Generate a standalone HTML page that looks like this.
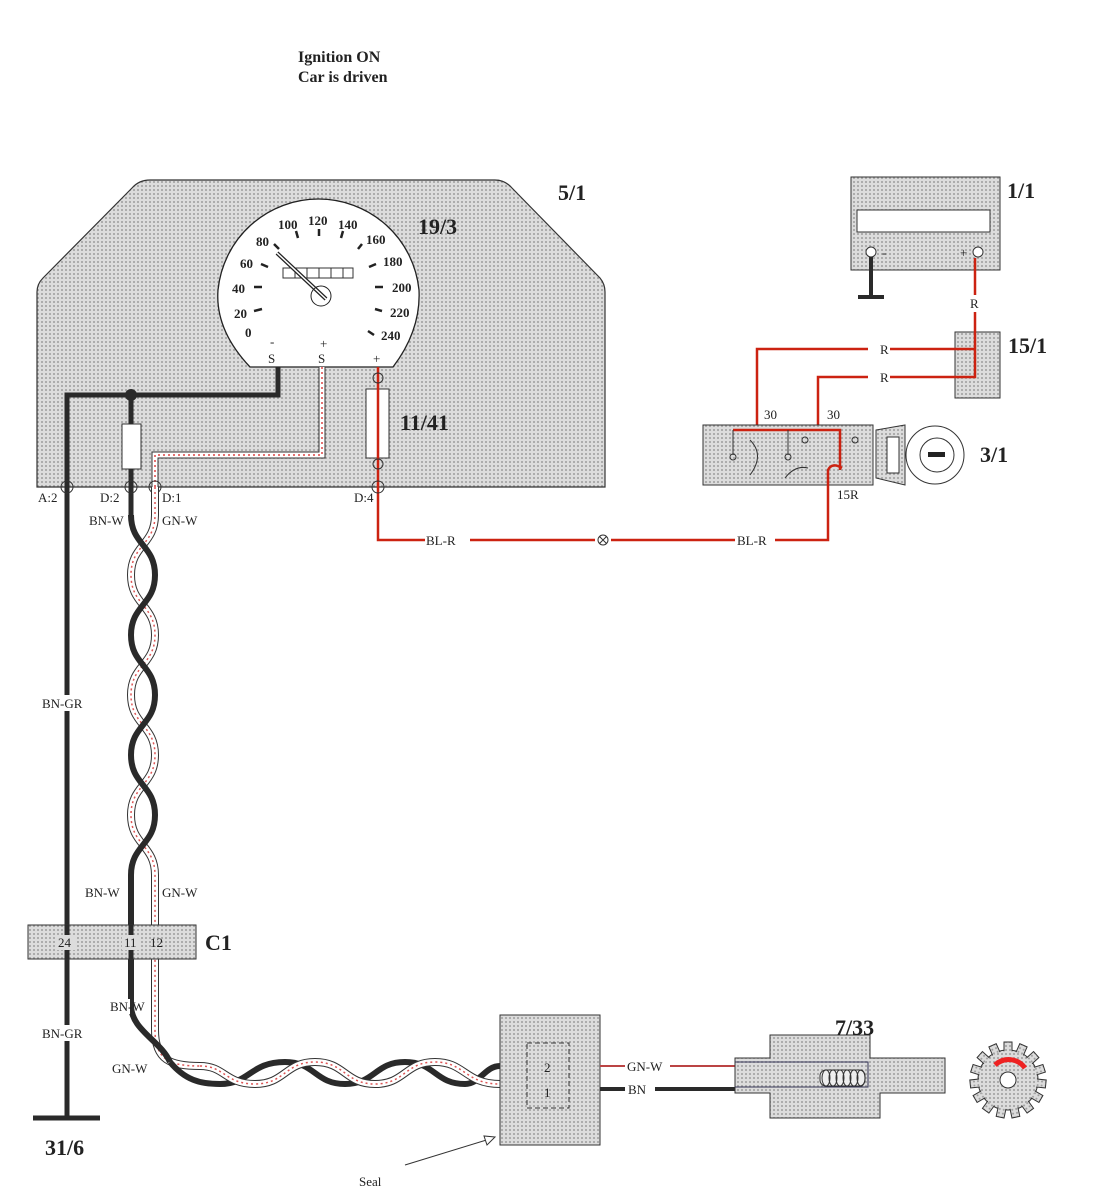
<!DOCTYPE html>
<html><head><meta charset="utf-8"><style>
html,body{margin:0;padding:0;background:#fff}
svg{display:block}
text{font-family:"Liberation Serif",serif;fill:#222}
.b{font-weight:bold;font-size:22px}
.s{font-size:13px}
</style></head><body>
<svg width="1113" height="1195" viewBox="0 0 1113 1195" xmlns="http://www.w3.org/2000/svg">
<defs>
<pattern id="dot" width="4" height="4" patternUnits="userSpaceOnUse">
<rect width="4" height="4" fill="#dcdcdc"/><circle cx="2" cy="2" r="1" fill="#9c9c9c"/>
</pattern>
</defs>
<text x="298" y="62" font-size="16" font-weight="bold">Ignition ON</text>
<text x="298" y="82" font-size="16" font-weight="bold">Car is driven</text>

<path d="M150 180 L495 180 Q505 180 512 188 L600 278 Q605 284 605 292 L605 487 L37 487 L37 292 Q37 284 43 278 L132 188 Q139 180 150 180 Z" fill="url(#dot)" stroke="#333" stroke-width="1.2"/>
<text class="b" x="558" y="200">5/1</text>
<path d="M250 367 Q215 330 218 290 A101 101 0 0 1 419 290 Q421 330 393 367 Z" fill="#fff" stroke="#222" stroke-width="1.3"/>
<text class="b" x="418" y="234">19/3</text>
<g font-size="13" font-weight="bold" font-family="Liberation Serif">
<text x="245" y="337">0</text><text x="234" y="318">20</text><text x="232" y="293">40</text><text x="240" y="268">60</text><text x="256" y="246">80</text>
<text x="278" y="229">100</text><text x="308" y="225">120</text><text x="338" y="229">140</text><text x="366" y="244">160</text><text x="383" y="266">180</text>
<text x="392" y="292">200</text><text x="390" y="317">220</text><text x="381" y="340">240</text>
</g>
<g stroke="#222" stroke-width="2.5">
<line x1="254" y1="311" x2="262" y2="309"/><line x1="254" y1="287" x2="262" y2="287"/><line x1="261" y1="264" x2="268" y2="267"/><line x1="274" y1="244" x2="279" y2="249"/>
<line x1="296" y1="231" x2="298" y2="238"/><line x1="319" y1="229" x2="319" y2="236"/><line x1="343" y1="231" x2="341" y2="238"/><line x1="362" y1="244" x2="358" y2="249"/>
<line x1="376" y1="264" x2="369" y2="267"/><line x1="383" y1="287" x2="375" y2="287"/><line x1="382" y1="311" x2="375" y2="309"/><line x1="374" y1="335" x2="368" y2="331"/>
</g>
<rect x="283" y="268" width="70" height="10" fill="#fff" stroke="#333"/>
<g stroke="#333"><line x1="295" y1="268" x2="295" y2="278"/><line x1="307" y1="268" x2="307" y2="278"/><line x1="319" y1="268" x2="319" y2="278"/><line x1="331" y1="268" x2="331" y2="278"/><line x1="343" y1="268" x2="343" y2="278"/></g>
<line x1="277" y1="253" x2="326" y2="299" stroke="#222" stroke-width="4"/><line x1="277" y1="253" x2="326" y2="299" stroke="#fff" stroke-width="1.5"/>
<circle cx="321" cy="296" r="10" fill="none" stroke="#222"/>
<text class="s" x="270" y="346">-</text><text class="s" x="268" y="363">S</text>
<text class="s" x="320" y="348">+</text><text class="s" x="318" y="363">S</text><text class="s" x="373" y="363">+</text>

<rect x="366" y="389" width="23" height="69" fill="#fff" stroke="#333"/>
<text class="b" x="400" y="430">11/41</text>

<path d="M278 367 L278 395 L67 395 L67 1118" fill="none" stroke="#2a2a2a" stroke-width="5"/>
<line x1="33" y1="1118" x2="100" y2="1118" stroke="#2a2a2a" stroke-width="5"/>
<text class="b" x="45" y="1155">31/6</text>
<circle cx="131" cy="395" r="6" fill="#2a2a2a"/>
<line x1="131" y1="395" x2="131" y2="425" stroke="#2a2a2a" stroke-width="5"/>
<rect x="122" y="424" width="19" height="45" fill="#fff" stroke="#333"/>
<line x1="131" y1="469" x2="131" y2="515" stroke="#2a2a2a" stroke-width="5"/>
<path d="M322 367 L322 455 L155 455 L155 487" fill="none" stroke="#333" stroke-width="7"/>
<path d="M322 367 L322 455 L155 455 L155 487" fill="none" stroke="#fff" stroke-width="5"/>
<path d="M322 367 L322 455 L155 455 L155 487" fill="none" stroke="#d44" stroke-width="1.5" stroke-dasharray="2 3"/>
<rect x="152" y="487" width="6" height="12" fill="#d22"/>
<path d="M378 367 L378 540 L425 540 M470 540 L595 540 M611 540 L735 540 M775 540 L828 540 L828 492" fill="none" stroke="#c21" stroke-width="2.5"/>
<circle cx="603" cy="540" r="5" fill="#fff" stroke="#333"/><path d="M599.5 536.5 L606.5 543.5 M606.5 536.5 L599.5 543.5" stroke="#333"/>
<text class="s" x="426" y="545">BL-R</text><text class="s" x="737" y="545">BL-R</text>
<g fill="none" stroke="#333"><circle cx="378" cy="378" r="5"/><circle cx="378" cy="464" r="5"/><circle cx="378" cy="487" r="6"/><circle cx="67" cy="487" r="6"/><circle cx="131" cy="487" r="6"/><circle cx="155" cy="487" r="6"/></g>
<text class="s" x="38" y="502">A:2</text><text class="s" x="100" y="502">D:2</text><text class="s" x="162" y="502">D:1</text><text class="s" x="354" y="502">D:4</text>
<text class="s" x="89" y="525">BN-W</text><text class="s" x="162" y="525">GN-W</text>
<rect x="40" y="695" width="50" height="16" fill="#fff"/>
<text class="s" x="42" y="708">BN-GR</text>
<text class="s" x="85" y="897">BN-W</text><text class="s" x="162" y="897">GN-W</text>

<g fill="none">
<path id="wv" d="M155 487 L155 515 C155 545 131 545 131 575 C131 605 155 605 155 635 C155 665 131 665 131 695 C131 725 155 725 155 755 C155 785 131 785 131 815 C131 845 155 845 155 875 L155 1030 C155 1060 170 1066 200 1066"/>
<use href="#wv" stroke="#333" stroke-width="8"/><use href="#wv" stroke="#fff" stroke-width="6"/><use href="#wv" stroke="#d55" stroke-width="1.5" stroke-dasharray="2 3"/>
<path d="M131 515 C131 545 155 545 155 575 C155 605 131 605 131 635 C131 665 155 665 155 695 C155 725 131 725 131 755 C131 785 155 785 155 815 C155 845 131 845 131 875 L131 1005 C131 1030 160 1040 170 1062" stroke="#2a2a2a" stroke-width="6"/>
<path id="wh" d="M200 1066 C225 1066 225 1084 255 1084 C285 1084 285 1062 315 1062 C345 1062 345 1084 375 1084 C405 1084 405 1062 435 1062 C465 1062 465 1084 500 1084"/>
<path d="M170 1062 C185 1080 200 1084 220 1084 C250 1084 250 1062 285 1062 C315 1062 315 1084 345 1084 C375 1084 375 1062 405 1062 C435 1062 435 1084 465 1084 C480 1084 485 1066 500 1066" stroke="#2a2a2a" stroke-width="6"/>
<use href="#wh" stroke="#333" stroke-width="8"/><use href="#wh" stroke="#fff" stroke-width="6"/><use href="#wh" stroke="#d55" stroke-width="1.5" stroke-dasharray="2 3"/>
</g>
<rect x="108" y="999" width="22" height="15" fill="#fff"/>
<text class="s" x="110" y="1011">BN-W</text><text class="s" x="112" y="1073">GN-W</text>
<rect x="40" y="1025" width="50" height="16" fill="#fff"/>
<text class="s" x="42" y="1038">BN-GR</text>

<rect x="28" y="925" width="168" height="34" fill="url(#dot)" stroke="#333"/>
<line x1="67" y1="925" x2="67" y2="959" stroke="#2a2a2a" stroke-width="5"/>
<line x1="131" y1="925" x2="131" y2="959" stroke="#2a2a2a" stroke-width="5"/>
<rect x="56" y="935" width="20" height="15" fill="#dcdcdc"/><rect x="122" y="935" width="18" height="15" fill="#dcdcdc"/>
<text class="s" x="58" y="947">24</text><text class="s" x="124" y="947">11</text><text class="s" x="150" y="947">12</text>
<text class="b" x="205" y="950">C1</text>

<rect x="500" y="1015" width="100" height="130" fill="url(#dot)" stroke="#333"/>
<rect x="527" y="1043" width="42" height="65" fill="none" stroke="#333" stroke-dasharray="5 3"/>
<text class="s" x="544" y="1072">2</text><text class="s" x="544" y="1097">1</text>
<line x1="405" y1="1165" x2="493" y2="1138" stroke="#333"/><path d="M495 1137 L484 1136 L487 1145 Z" fill="#fff" stroke="#333"/>
<text class="s" x="359" y="1186" font-size="15">Seal</text>
<path d="M600 1066 L625 1066 M670 1066 L735 1066" stroke="#b44" stroke-width="2"/>
<path d="M600 1089 L625 1089 M655 1089 L735 1089" stroke="#2a2a2a" stroke-width="4"/>
<text class="s" x="627" y="1071">GN-W</text><text class="s" x="628" y="1094">BN</text>

<path d="M770 1035 L870 1035 L870 1058 L945 1058 L945 1093 L880 1093 L880 1118 L770 1118 L770 1093 L735 1093 L735 1058 L770 1058 Z" fill="url(#dot)" stroke="#333"/>
<path d="M735 1062 L868 1062 L868 1087 L735 1087" fill="none" stroke="#335" stroke-width="1"/>
<rect x="820" y="1070" width="45" height="16" rx="6" fill="#eee" stroke="#333"/>
<g fill="none" stroke="#333"><ellipse cx="826" cy="1078" rx="4" ry="8"/><ellipse cx="833" cy="1078" rx="4" ry="8"/><ellipse cx="840" cy="1078" rx="4" ry="8"/><ellipse cx="847" cy="1078" rx="4" ry="8"/><ellipse cx="854" cy="1078" rx="4" ry="8"/><ellipse cx="861" cy="1078" rx="4" ry="8"/></g>
<text class="b" x="835" y="1035">7/33</text>
<g transform="translate(1008 1080)">
<circle r="30" fill="url(#dot)" stroke="#333"/>
<g fill="url(#dot)" stroke="#333">
<rect x="-4" y="-38" width="8" height="10" transform="rotate(0)"/><rect x="-4" y="-38" width="8" height="10" transform="rotate(24)"/><rect x="-4" y="-38" width="8" height="10" transform="rotate(48)"/><rect x="-4" y="-38" width="8" height="10" transform="rotate(72)"/><rect x="-4" y="-38" width="8" height="10" transform="rotate(96)"/><rect x="-4" y="-38" width="8" height="10" transform="rotate(120)"/><rect x="-4" y="-38" width="8" height="10" transform="rotate(144)"/><rect x="-4" y="-38" width="8" height="10" transform="rotate(168)"/><rect x="-4" y="-38" width="8" height="10" transform="rotate(192)"/><rect x="-4" y="-38" width="8" height="10" transform="rotate(216)"/><rect x="-4" y="-38" width="8" height="10" transform="rotate(240)"/><rect x="-4" y="-38" width="8" height="10" transform="rotate(264)"/><rect x="-4" y="-38" width="8" height="10" transform="rotate(288)"/><rect x="-4" y="-38" width="8" height="10" transform="rotate(312)"/><rect x="-4" y="-38" width="8" height="10" transform="rotate(336)"/>
</g>
<circle r="29" fill="url(#dot)"/>
<circle r="8" fill="#fff" stroke="#333"/>
<path d="M-13 -15 A20 20 0 0 1 17 -12" fill="none" stroke="#e22" stroke-width="5"/>
</g>

<rect x="851" y="177" width="149" height="93" fill="url(#dot)" stroke="#333"/>
<rect x="857" y="210" width="133" height="22" fill="#fff" stroke="#333"/>
<text class="b" x="1007" y="198">1/1</text>
<circle cx="871" cy="252" r="5" fill="#fff" stroke="#333"/><circle cx="978" cy="252" r="5" fill="#fff" stroke="#333"/>
<text class="s" x="882" y="257">-</text><text class="s" x="960" y="257">+</text>
<line x1="871" y1="257" x2="871" y2="297" stroke="#2a2a2a" stroke-width="4"/>
<line x1="858" y1="297" x2="884" y2="297" stroke="#2a2a2a" stroke-width="4"/>
<rect x="955" y="332" width="45" height="66" fill="url(#dot)" stroke="#333"/>
<text class="b" x="1008" y="353">15/1</text>
<path d="M975 258 L975 295 M975 312 L975 377 L818 377 L818 430 M975 349 L757 349 L757 430" fill="none" stroke="#c21" stroke-width="2.5"/>
<rect x="868" y="342" width="22" height="14" fill="#fff"/><rect x="868" y="370" width="22" height="14" fill="#fff"/>
<text class="s" x="880" y="354">R</text><text class="s" x="880" y="382">R</text><text class="s" x="970" y="308">R</text>
<rect x="703" y="425" width="170" height="60" fill="url(#dot)" stroke="#333"/>
<path d="M733 430 L840 430 L840 470" fill="none" stroke="#c21" stroke-width="2.5"/>
<path d="M828 492 L828 470 Q832 462 842 468" fill="none" stroke="#c21" stroke-width="2.5"/>
<text class="s" x="764" y="419">30</text><text class="s" x="827" y="419">30</text><text class="s" x="837" y="499">15R</text>
<g fill="none" stroke="#333"><path d="M733 430 L733 455 M788 430 L788 455 M750 440 Q765 455 750 475 M785 478 Q795 465 808 468"/><circle cx="733" cy="457" r="3"/><circle cx="788" cy="457" r="3"/><circle cx="805" cy="440" r="3"/><circle cx="855" cy="440" r="3"/></g>
<path d="M876 430 L905 425 L905 485 L876 478 Z" fill="url(#dot)" stroke="#333"/>
<rect x="887" y="437" width="12" height="36" fill="#fff" stroke="#333"/>
<circle cx="935" cy="455" r="29" fill="#fff" stroke="#333"/>
<circle cx="937" cy="455" r="17" fill="none" stroke="#333"/>
<rect x="928" y="452" width="17" height="5" fill="#222"/>
<text class="b" x="980" y="462">3/1</text>
</svg>
</body></html>
